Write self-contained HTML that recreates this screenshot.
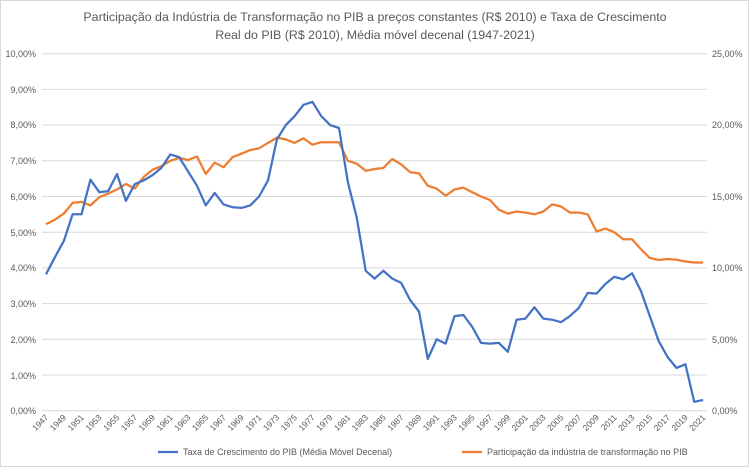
<!DOCTYPE html>
<html><head><meta charset="utf-8"><style>
body{margin:0;background:#fff}
svg{display:block;font-family:"Liberation Sans",Arial,sans-serif}
</style></head><body>
<svg id="s" width="749" height="467" viewBox="0 0 749 467" xmlns="http://www.w3.org/2000/svg">
<rect x="0.5" y="0.5" width="748" height="466" fill="#fff" stroke="#d9d9d9"/>
<text x="375" y="21" text-anchor="middle" font-size="12.4" fill="#595959">Participação da Indústria de Transformação  no PIB a preços constantes (R$ 2010) e Taxa de Crescimento</text>
<text x="375" y="39" text-anchor="middle" font-size="12.4" fill="#595959">Real do PIB (R$ 2010), Média móvel decenal  (1947-2021)</text>
<g id="grid" stroke="#d9d9d9" stroke-width="1"></g>
<g font-size="9" fill="#595959" text-anchor="end">
<text x="36" y="57">10,00%</text><text x="36" y="93">9,00%</text><text x="36" y="128">8,00%</text><text x="36" y="164">7,00%</text><text x="36" y="200">6,00%</text><text x="36" y="236">5,00%</text><text x="36" y="271">4,00%</text><text x="36" y="307">3,00%</text><text x="36" y="343">2,00%</text><text x="36" y="379">1,00%</text><text x="36" y="414">0,00%</text>
</g>
<g font-size="9" fill="#595959" text-anchor="start">
<text x="712" y="57">25,00%</text><text x="712" y="128">20,00%</text><text x="712" y="200">15,00%</text><text x="712" y="271">10,00%</text><text x="712" y="343">5,00%</text><text x="712" y="414">0,00%</text>
</g>
<g id="years" font-size="8.5" fill="#595959" text-anchor="end">
<text>1947</text><text>1949</text><text>1951</text><text>1953</text><text>1955</text><text>1957</text><text>1959</text><text>1961</text><text>1963</text><text>1965</text><text>1967</text><text>1969</text><text>1971</text><text>1973</text><text>1975</text><text>1977</text><text>1979</text><text>1981</text><text>1983</text><text>1985</text><text>1987</text><text>1989</text><text>1991</text><text>1993</text><text>1995</text><text>1997</text><text>1999</text><text>2001</text><text>2003</text><text>2005</text><text>2007</text><text>2009</text><text>2011</text><text>2013</text><text>2015</text><text>2017</text><text>2019</text><text>2021</text>
</g>
<polyline id="o" fill="none" stroke="#ed7d31" stroke-width="2.25" stroke-linejoin="round"/>
<polyline id="b" fill="none" stroke="#4472c4" stroke-width="2.25" stroke-linejoin="round"/>
<line x1="158" y1="452" x2="178" y2="452" stroke="#4472c4" stroke-width="2.25"/>
<text x="183" y="455" font-size="9" fill="#595959">Taxa de Crescimento do PIB (Média Móvel Decenal)</text>
<line x1="462" y1="452" x2="482" y2="452" stroke="#ed7d31" stroke-width="2.25"/>
<text x="487" y="455" font-size="9" fill="#595959">Participação da indústria de transformação no PIB</text>
</svg>
<script>
var y0=410.7,k=35.7,x0=46,dx=8.88;
var g=document.getElementById('grid');
for(var i=0;i<=10;i++){var l=document.createElementNS('http://www.w3.org/2000/svg','line');var y=(y0-i*k).toFixed(1);l.setAttribute('x1',42);l.setAttribute('x2',707);l.setAttribute('y1',y);l.setAttribute('y2',y);g.appendChild(l);}
var yt=document.querySelectorAll('#years text');
yt.forEach(function(t,i){var x=x0+dx*2*i+3,y=418;t.setAttribute('transform','translate('+x+','+y+') rotate(-45)');});
var B=[3.82,4.3,4.75,5.5,5.5,6.47,6.12,6.15,6.63,5.88,6.35,6.45,6.6,6.8,7.18,7.1,6.7,6.3,5.75,6.1,5.78,5.7,5.68,5.75,6.0,6.45,7.6,8.0,8.25,8.57,8.65,8.25,8.0,7.92,6.4,5.4,3.92,3.7,3.92,3.7,3.58,3.1,2.78,1.45,2.0,1.88,2.65,2.68,2.35,1.9,1.88,1.9,1.65,2.55,2.58,2.9,2.58,2.55,2.48,2.65,2.88,3.3,3.28,3.55,3.75,3.68,3.85,3.35,2.65,1.95,1.5,1.2,1.3,0.25,0.3];
var O=[5.22,5.35,5.52,5.82,5.85,5.75,5.98,6.08,6.2,6.35,6.22,6.55,6.75,6.85,7.0,7.08,7.02,7.12,6.63,6.95,6.82,7.1,7.2,7.3,7.35,7.5,7.65,7.6,7.5,7.63,7.45,7.52,7.52,7.52,7.0,6.92,6.72,6.77,6.8,7.05,6.9,6.68,6.65,6.3,6.22,6.02,6.2,6.25,6.12,6.0,5.9,5.63,5.52,5.58,5.55,5.5,5.58,5.78,5.72,5.55,5.55,5.5,5.02,5.1,5.0,4.8,4.8,4.52,4.28,4.22,4.25,4.23,4.18,4.15,4.15];
function pts(a){return a.map(function(v,i){return (x0+dx*i).toFixed(1)+','+(y0-v*k).toFixed(1)}).join(' ');}
document.getElementById('b').setAttribute('points',pts(B));
document.getElementById('o').setAttribute('points',pts(O));
</script>
</body></html>
